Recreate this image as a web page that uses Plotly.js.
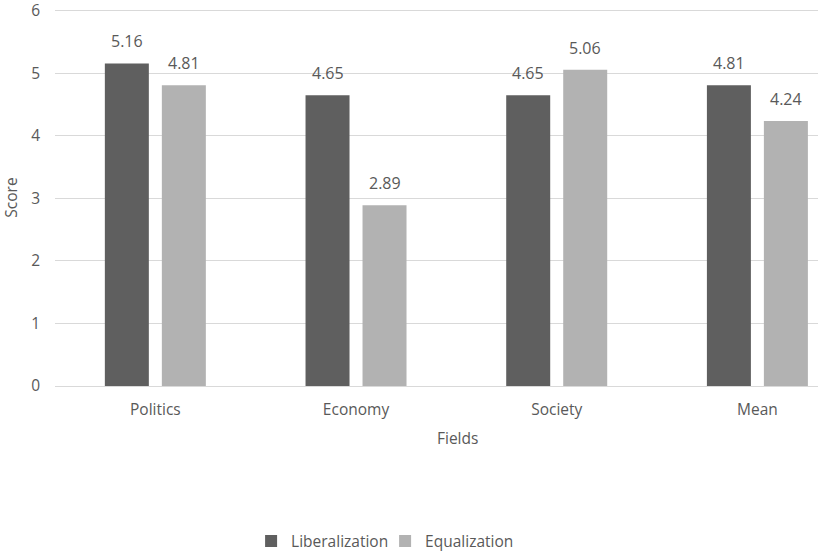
<!DOCTYPE html>
<html>
<head>
<meta charset="utf-8">
<script src="https://cdn.plot.ly/plotly-3.0.1.min.js"></script>
<style>
  html, body { margin: 0; padding: 0; background: #ffffff; overflow: hidden; }
  #chart { width: 818px; height: 552px; }
</style>
</head>
<body>
<div id="chart"></div>
<script>
// Scores by field
const fields = ['Politics', 'Economy', 'Society', 'Mean'];
const liberalization = [5.16, 4.65, 4.65, 4.81];
const equalization = [4.81, 2.89, 5.06, 4.24];
const yTicks = [0, 1, 2, 3, 4, 5, 6];

const textColor = '#595959';
const font = { family: 'Open Sans, Noto Sans, sans-serif', size: 15.5, color: textColor };

const traces = [
  {
    type: 'bar', name: 'Liberalization', x: fields, y: liberalization,
    marker: { color: '#5f5f5f' }, hoverinfo: 'x+y'
  },
  {
    type: 'bar', name: 'Equalization', x: fields, y: equalization,
    marker: { color: '#b2b2b2' }, hoverinfo: 'x+y'
  }
];

// value labels above each bar
const annotations = [];
fields.forEach((f, i) => {
  annotations.push({ x: f, y: liberalization[i], text: liberalization[i].toFixed(2),
    xref: 'x', yref: 'y', showarrow: false, yanchor: 'bottom', xshift: -28.5, yshift: 9,
    font: { ...font, size: 16 } });
  annotations.push({ x: f, y: equalization[i], text: equalization[i].toFixed(2),
    xref: 'x', yref: 'y', showarrow: false, yanchor: 'bottom', xshift: 28.5, yshift: 9,
    font: { ...font, size: 16 } });
});
// x-axis title
annotations.push({ text: 'Fields', xref: 'paper', yref: 'paper', x: 0.527, y: -0.1387,
  xanchor: 'center', yanchor: 'middle', showarrow: false, font: font });

const layout = {
  width: 818, height: 552,
  // range runs a touch past 6 so the top gridline is kept
  margin: { l: 55, r: 0, t: 9.4, b: 166, pad: 0, autoexpand: false },
  paper_bgcolor: '#ffffff', plot_bgcolor: '#ffffff',
  font: font,
  barmode: 'group', bargap: 0.432, bargroupgap: 0.228,
  showlegend: true,
  legend: { orientation: 'h', x: 0.257, xanchor: 'left', y: -0.412, yanchor: 'middle',
    font: font, entrywidth: 89, entrywidthmode: 'pixels', traceorder: 'normal' },
  xaxis: {
    type: 'category', range: [-0.5, 3.302], showgrid: false, zeroline: false,
    showline: false, ticks: '', ticklabelstandoff: 12, tickfont: font
  },
  yaxis: {
    range: [0, 6.03], tickvals: yTicks, showgrid: true, gridcolor: '#d9d9d9', gridwidth: 1,
    zeroline: true, zerolinecolor: '#d9d9d9', zerolinewidth: 1, showline: false, ticks: '',
    ticklabelstandoff: 14, ticklabeloverflow: 'allow', tickfont: font,
    title: { text: 'Score', font: font, standoff: 9 }
  },
  annotations: annotations
};

Plotly.newPlot('chart', traces, layout, { staticPlot: true, displayModeBar: false });
</script>
</body>
</html>
